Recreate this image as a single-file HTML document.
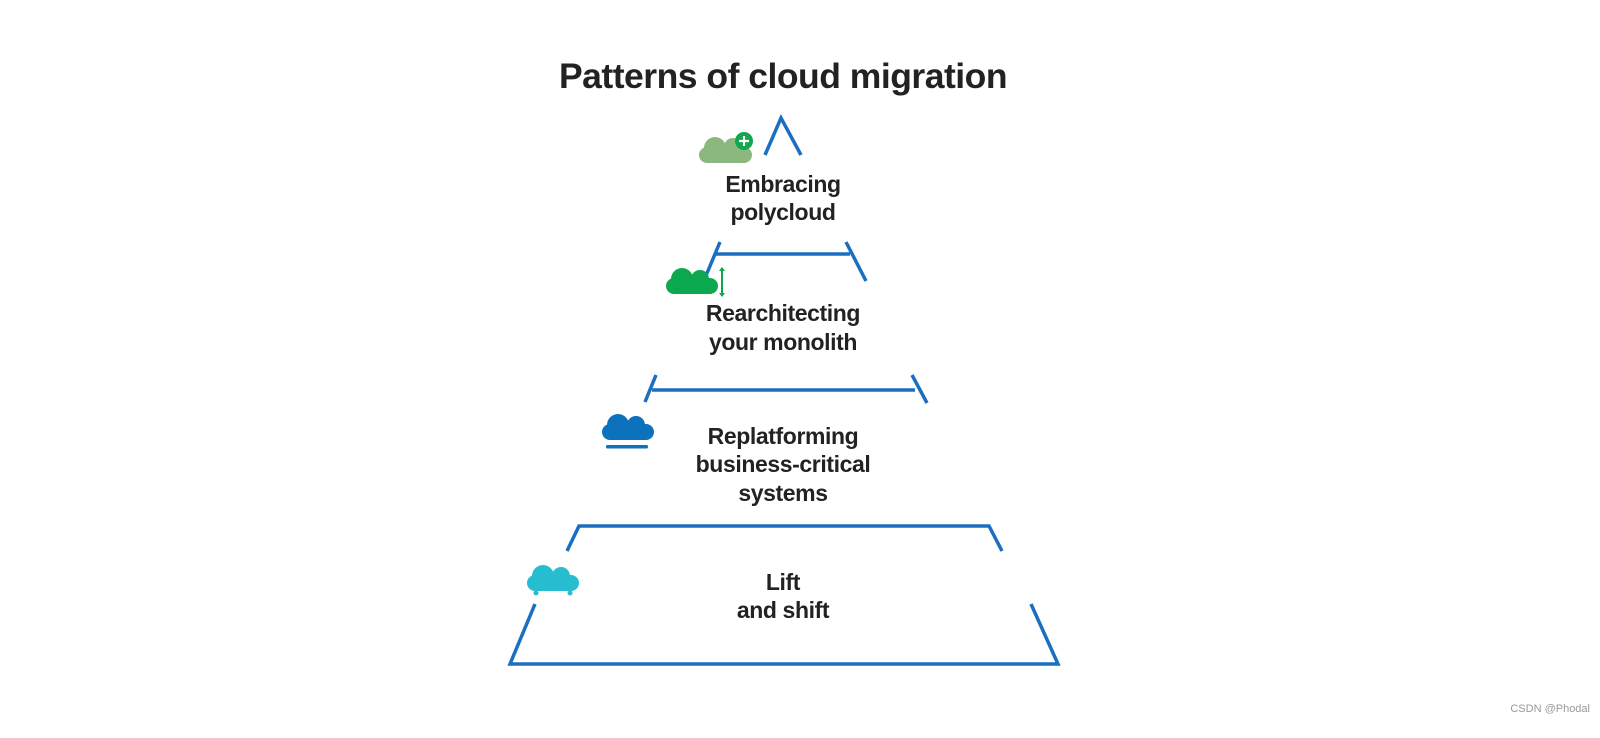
<!DOCTYPE html>
<html><head><style>
html,body{margin:0;padding:0;background:#fff;}
body{width:1600px;height:738px;position:relative;overflow:hidden;font-family:"Liberation Sans",sans-serif;}
svg{position:absolute;left:0;top:0;}
</style></head><body>
<svg width="1600" height="738" viewBox="0 0 1600 738">
<g fill="none" stroke="#1b6fc1" stroke-width="3.5">
<polyline points="765,155 781,118 801,155"/>
<line x1="720" y1="242" x2="705" y2="278"/>
<line x1="716" y1="254" x2="850" y2="254"/>
<line x1="846" y1="242" x2="866" y2="281"/>
<line x1="656" y1="375" x2="645" y2="402"/>
<line x1="652" y1="390" x2="915" y2="390"/>
<line x1="912" y1="375" x2="927" y2="403"/>
<polyline points="567,551 579,526 989,526 1002,551"/>
<polyline points="535,604 510,664 1058,664 1031,604"/>
</g>
<g font-family="Liberation Sans, sans-serif" font-weight="bold" fill="#222" text-anchor="middle">
<text x="783" y="88" font-size="35.5" letter-spacing="-0.5">Patterns of cloud migration</text>
<g font-size="23" letter-spacing="-0.4">
<text x="783" y="192">Embracing</text>
<text x="783" y="220">polycloud</text>
<text x="783" y="321">Rearchitecting</text>
<text x="783" y="350">your monolith</text>
<text x="783" y="444">Replatforming</text>
<text x="783" y="472">business-critical</text>
<text x="783" y="501">systems</text>
<text x="783" y="590">Lift</text>
<text x="783" y="618">and shift</text>
</g></g>
<g fill="#8ab87f"><rect x="699" y="147" width="53" height="16" rx="8"/><circle cx="715" cy="148" r="11"/><circle cx="733" cy="147" r="9"/></g>
<circle cx="744" cy="141" r="9" fill="#11a64f"/>
<path d="M744 136v10M739 141h10" stroke="#fff" stroke-width="2.2"/>
<g fill="#0ba84f"><rect x="666" y="278" width="52" height="16" rx="8"/><circle cx="682" cy="279" r="11"/><circle cx="700" cy="279" r="9"/></g>
<path d="M722 268v28" stroke="#0ba84f" stroke-width="2"/><path d="M719 271l3-4 3 4zM719 293l3 4 3-4z" fill="#0ba84f"/>
<g fill="#0d72bd"><rect x="602" y="424" width="52" height="16" rx="8"/><circle cx="618" cy="425" r="11"/><circle cx="636" cy="425" r="9"/></g>
<rect x="606" y="445" width="42" height="3.5" rx="1.5" fill="#0d72bd"/>
<g fill="#27bdd0"><rect x="527" y="575" width="52" height="16" rx="8"/><circle cx="543" cy="576" r="11"/><circle cx="561" cy="576" r="9"/><circle cx="536" cy="593" r="2.5"/><circle cx="570" cy="593" r="2.5"/></g>
<text x="1590" y="712" font-size="11" fill="#999" text-anchor="end" font-family="Liberation Sans, sans-serif">CSDN @Phodal</text>
</svg>
</body></html>
